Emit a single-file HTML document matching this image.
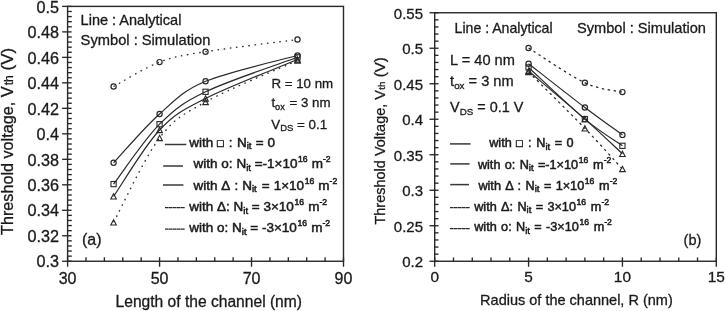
<!DOCTYPE html>
<html><head><meta charset="utf-8"><title>Threshold voltage plots</title>
<style>
html,body{margin:0;padding:0;background:#fff;width:725px;height:311px;overflow:hidden}
svg{display:block;will-change:transform}
text{font-family:"Liberation Sans", sans-serif;fill:#1a1a1a;stroke:#1a1a1a;stroke-width:0.3px}
text.lg{stroke-width:0.5px}
</style></head><body>
<svg width="725" height="311" viewBox="0 0 725 311">
<g stroke="#282828" fill="none">
<rect x="67.6" y="6.4" width="275.90" height="254.85" fill="none" stroke-width="1.4"/>
<line x1="62.10" y1="261.25" x2="71.60" y2="261.25" stroke-width="1.35" />
<line x1="67.60" y1="256.15" x2="71.80" y2="256.15" stroke-width="1.35" />
<line x1="67.60" y1="251.06" x2="71.80" y2="251.06" stroke-width="1.35" />
<line x1="67.60" y1="245.96" x2="71.80" y2="245.96" stroke-width="1.35" />
<line x1="67.60" y1="240.86" x2="71.80" y2="240.86" stroke-width="1.35" />
<line x1="62.10" y1="235.76" x2="71.60" y2="235.76" stroke-width="1.35" />
<line x1="67.60" y1="230.67" x2="71.80" y2="230.67" stroke-width="1.35" />
<line x1="67.60" y1="225.57" x2="71.80" y2="225.57" stroke-width="1.35" />
<line x1="67.60" y1="220.47" x2="71.80" y2="220.47" stroke-width="1.35" />
<line x1="67.60" y1="215.38" x2="71.80" y2="215.38" stroke-width="1.35" />
<line x1="62.10" y1="210.28" x2="71.60" y2="210.28" stroke-width="1.35" />
<line x1="67.60" y1="205.18" x2="71.80" y2="205.18" stroke-width="1.35" />
<line x1="67.60" y1="200.09" x2="71.80" y2="200.09" stroke-width="1.35" />
<line x1="67.60" y1="194.99" x2="71.80" y2="194.99" stroke-width="1.35" />
<line x1="67.60" y1="189.89" x2="71.80" y2="189.89" stroke-width="1.35" />
<line x1="62.10" y1="184.80" x2="71.60" y2="184.80" stroke-width="1.35" />
<line x1="67.60" y1="179.70" x2="71.80" y2="179.70" stroke-width="1.35" />
<line x1="67.60" y1="174.60" x2="71.80" y2="174.60" stroke-width="1.35" />
<line x1="67.60" y1="169.50" x2="71.80" y2="169.50" stroke-width="1.35" />
<line x1="67.60" y1="164.41" x2="71.80" y2="164.41" stroke-width="1.35" />
<line x1="62.10" y1="159.31" x2="71.60" y2="159.31" stroke-width="1.35" />
<line x1="67.60" y1="154.21" x2="71.80" y2="154.21" stroke-width="1.35" />
<line x1="67.60" y1="149.12" x2="71.80" y2="149.12" stroke-width="1.35" />
<line x1="67.60" y1="144.02" x2="71.80" y2="144.02" stroke-width="1.35" />
<line x1="67.60" y1="138.92" x2="71.80" y2="138.92" stroke-width="1.35" />
<line x1="62.10" y1="133.82" x2="71.60" y2="133.82" stroke-width="1.35" />
<line x1="67.60" y1="128.73" x2="71.80" y2="128.73" stroke-width="1.35" />
<line x1="67.60" y1="123.63" x2="71.80" y2="123.63" stroke-width="1.35" />
<line x1="67.60" y1="118.53" x2="71.80" y2="118.53" stroke-width="1.35" />
<line x1="67.60" y1="113.44" x2="71.80" y2="113.44" stroke-width="1.35" />
<line x1="62.10" y1="108.34" x2="71.60" y2="108.34" stroke-width="1.35" />
<line x1="67.60" y1="103.24" x2="71.80" y2="103.24" stroke-width="1.35" />
<line x1="67.60" y1="98.15" x2="71.80" y2="98.15" stroke-width="1.35" />
<line x1="67.60" y1="93.05" x2="71.80" y2="93.05" stroke-width="1.35" />
<line x1="67.60" y1="87.95" x2="71.80" y2="87.95" stroke-width="1.35" />
<line x1="62.10" y1="82.85" x2="71.60" y2="82.85" stroke-width="1.35" />
<line x1="67.60" y1="77.76" x2="71.80" y2="77.76" stroke-width="1.35" />
<line x1="67.60" y1="72.66" x2="71.80" y2="72.66" stroke-width="1.35" />
<line x1="67.60" y1="67.56" x2="71.80" y2="67.56" stroke-width="1.35" />
<line x1="67.60" y1="62.47" x2="71.80" y2="62.47" stroke-width="1.35" />
<line x1="62.10" y1="57.37" x2="71.60" y2="57.37" stroke-width="1.35" />
<line x1="67.60" y1="52.27" x2="71.80" y2="52.27" stroke-width="1.35" />
<line x1="67.60" y1="47.18" x2="71.80" y2="47.18" stroke-width="1.35" />
<line x1="67.60" y1="42.08" x2="71.80" y2="42.08" stroke-width="1.35" />
<line x1="67.60" y1="36.98" x2="71.80" y2="36.98" stroke-width="1.35" />
<line x1="62.10" y1="31.89" x2="71.60" y2="31.89" stroke-width="1.35" />
<line x1="67.60" y1="26.79" x2="71.80" y2="26.79" stroke-width="1.35" />
<line x1="67.60" y1="21.69" x2="71.80" y2="21.69" stroke-width="1.35" />
<line x1="67.60" y1="16.59" x2="71.80" y2="16.59" stroke-width="1.35" />
<line x1="67.60" y1="11.50" x2="71.80" y2="11.50" stroke-width="1.35" />
<line x1="62.10" y1="6.40" x2="71.60" y2="6.40" stroke-width="1.35" />
<line x1="67.60" y1="266.75" x2="67.60" y2="257.25" stroke-width="1.35" />
<line x1="85.99" y1="261.25" x2="85.99" y2="257.25" stroke-width="1.35" />
<line x1="104.39" y1="261.25" x2="104.39" y2="257.25" stroke-width="1.35" />
<line x1="122.78" y1="261.25" x2="122.78" y2="257.25" stroke-width="1.35" />
<line x1="141.17" y1="261.25" x2="141.17" y2="257.25" stroke-width="1.35" />
<line x1="159.57" y1="266.75" x2="159.57" y2="257.25" stroke-width="1.35" />
<line x1="177.96" y1="261.25" x2="177.96" y2="257.25" stroke-width="1.35" />
<line x1="196.35" y1="261.25" x2="196.35" y2="257.25" stroke-width="1.35" />
<line x1="214.75" y1="261.25" x2="214.75" y2="257.25" stroke-width="1.35" />
<line x1="233.14" y1="261.25" x2="233.14" y2="257.25" stroke-width="1.35" />
<line x1="251.53" y1="266.75" x2="251.53" y2="257.25" stroke-width="1.35" />
<line x1="269.93" y1="261.25" x2="269.93" y2="257.25" stroke-width="1.35" />
<line x1="288.32" y1="261.25" x2="288.32" y2="257.25" stroke-width="1.35" />
<line x1="306.71" y1="261.25" x2="306.71" y2="257.25" stroke-width="1.35" />
<line x1="325.11" y1="261.25" x2="325.11" y2="257.25" stroke-width="1.35" />
<line x1="343.50" y1="266.75" x2="343.50" y2="257.25" stroke-width="1.35" />
<path d="M113.58,162.80 C121.25,154.67 144.24,127.58 159.57,114.00 C174.89,100.42 182.56,91.05 205.55,81.30 C228.54,71.55 282.19,59.80 297.52,55.50" fill="none" stroke-width="1.2"/>
<path d="M113.58,184.10 C121.25,174.12 144.24,139.58 159.57,124.20 C174.89,108.82 182.56,102.95 205.55,91.80 C228.54,80.65 282.19,63.05 297.52,57.30" fill="none" stroke-width="1.2"/>
<path d="M113.58,196.40 C121.25,185.33 144.24,146.32 159.57,130.00 C174.89,113.68 182.56,110.25 205.55,98.50 C228.54,86.75 282.19,66.00 297.52,59.50" fill="none" stroke-width="1.2"/>
<path d="M113.58,222.30 C121.25,208.25 144.24,158.05 159.57,138.00 C174.89,117.95 182.56,114.92 205.55,102.00 C228.54,89.08 282.19,67.42 297.52,60.50" fill="none" stroke-width="1.3" stroke-dasharray="1.6 4.6"/>
<path d="M113.58,86.50 C121.25,82.43 144.24,67.90 159.57,62.10 C174.89,56.30 182.56,55.47 205.55,51.70 C228.54,47.93 282.19,41.53 297.52,39.50" fill="none" stroke-width="1.3" stroke-dasharray="1.6 4.6"/>
<circle cx="113.58" cy="162.80" r="2.6" fill="none" stroke-width="1.2"/>
<circle cx="159.57" cy="114.00" r="2.6" fill="none" stroke-width="1.2"/>
<circle cx="205.55" cy="81.30" r="2.6" fill="none" stroke-width="1.2"/>
<circle cx="297.52" cy="55.50" r="2.6" fill="none" stroke-width="1.2"/>
<rect x="110.98" y="181.50" width="5.2" height="5.2" fill="none" stroke-width="1.1"/>
<rect x="156.97" y="121.60" width="5.2" height="5.2" fill="none" stroke-width="1.1"/>
<rect x="202.95" y="89.20" width="5.2" height="5.2" fill="none" stroke-width="1.1"/>
<rect x="294.92" y="54.70" width="5.2" height="5.2" fill="none" stroke-width="1.1"/>
<path d="M113.58,193.74 L116.38,199.06 L110.78,199.06 Z" fill="none" stroke-width="1.1"/>
<path d="M159.57,127.34 L162.37,132.66 L156.77,132.66 Z" fill="none" stroke-width="1.1"/>
<path d="M205.55,95.84 L208.35,101.16 L202.75,101.16 Z" fill="none" stroke-width="1.1"/>
<path d="M297.52,56.84 L300.32,62.16 L294.72,62.16 Z" fill="none" stroke-width="1.1"/>
<path d="M113.58,219.64 L116.38,224.96 L110.78,224.96 Z" fill="none" stroke-width="1.1"/>
<path d="M159.57,135.34 L162.37,140.66 L156.77,140.66 Z" fill="none" stroke-width="1.1"/>
<path d="M205.55,99.34 L208.35,104.66 L202.75,104.66 Z" fill="none" stroke-width="1.1"/>
<path d="M297.52,57.84 L300.32,63.16 L294.72,63.16 Z" fill="none" stroke-width="1.1"/>
<circle cx="113.58" cy="86.50" r="2.6" fill="none" stroke-width="1.2"/>
<circle cx="159.57" cy="62.10" r="2.6" fill="none" stroke-width="1.2"/>
<circle cx="205.55" cy="51.70" r="2.6" fill="none" stroke-width="1.2"/>
<circle cx="297.52" cy="39.50" r="2.6" fill="none" stroke-width="1.2"/>
<line x1="164.90" y1="144.50" x2="186.30" y2="144.50" stroke-width="1.5" stroke="#383838"/>
<line x1="163.20" y1="166.00" x2="183.00" y2="166.00" stroke-width="1.5" stroke="#383838"/>
<line x1="163.00" y1="185.00" x2="183.40" y2="185.00" stroke-width="1.5" stroke="#383838"/>
<line x1="165.00" y1="207.60" x2="185.00" y2="207.60" stroke-width="1.35" stroke-dasharray="3.65 0.35"/>
<line x1="165.00" y1="229.10" x2="185.00" y2="229.10" stroke-width="1.35" stroke-dasharray="3.65 0.35"/>
<rect x="434.7" y="12.75" width="281.60" height="248.50" fill="none" stroke-width="1.4"/>
<line x1="429.50" y1="261.25" x2="438.50" y2="261.25" stroke-width="1.35" />
<line x1="434.70" y1="254.15" x2="438.50" y2="254.15" stroke-width="1.35" />
<line x1="434.70" y1="247.05" x2="438.50" y2="247.05" stroke-width="1.35" />
<line x1="434.70" y1="239.95" x2="438.50" y2="239.95" stroke-width="1.35" />
<line x1="434.70" y1="232.85" x2="438.50" y2="232.85" stroke-width="1.35" />
<line x1="429.50" y1="225.75" x2="438.50" y2="225.75" stroke-width="1.35" />
<line x1="434.70" y1="218.65" x2="438.50" y2="218.65" stroke-width="1.35" />
<line x1="434.70" y1="211.55" x2="438.50" y2="211.55" stroke-width="1.35" />
<line x1="434.70" y1="204.45" x2="438.50" y2="204.45" stroke-width="1.35" />
<line x1="434.70" y1="197.35" x2="438.50" y2="197.35" stroke-width="1.35" />
<line x1="429.50" y1="190.25" x2="438.50" y2="190.25" stroke-width="1.35" />
<line x1="434.70" y1="183.15" x2="438.50" y2="183.15" stroke-width="1.35" />
<line x1="434.70" y1="176.05" x2="438.50" y2="176.05" stroke-width="1.35" />
<line x1="434.70" y1="168.95" x2="438.50" y2="168.95" stroke-width="1.35" />
<line x1="434.70" y1="161.85" x2="438.50" y2="161.85" stroke-width="1.35" />
<line x1="429.50" y1="154.75" x2="438.50" y2="154.75" stroke-width="1.35" />
<line x1="434.70" y1="147.65" x2="438.50" y2="147.65" stroke-width="1.35" />
<line x1="434.70" y1="140.55" x2="438.50" y2="140.55" stroke-width="1.35" />
<line x1="434.70" y1="133.45" x2="438.50" y2="133.45" stroke-width="1.35" />
<line x1="434.70" y1="126.35" x2="438.50" y2="126.35" stroke-width="1.35" />
<line x1="429.50" y1="119.25" x2="438.50" y2="119.25" stroke-width="1.35" />
<line x1="434.70" y1="112.15" x2="438.50" y2="112.15" stroke-width="1.35" />
<line x1="434.70" y1="105.05" x2="438.50" y2="105.05" stroke-width="1.35" />
<line x1="434.70" y1="97.95" x2="438.50" y2="97.95" stroke-width="1.35" />
<line x1="434.70" y1="90.85" x2="438.50" y2="90.85" stroke-width="1.35" />
<line x1="429.50" y1="83.75" x2="438.50" y2="83.75" stroke-width="1.35" />
<line x1="434.70" y1="76.65" x2="438.50" y2="76.65" stroke-width="1.35" />
<line x1="434.70" y1="69.55" x2="438.50" y2="69.55" stroke-width="1.35" />
<line x1="434.70" y1="62.45" x2="438.50" y2="62.45" stroke-width="1.35" />
<line x1="434.70" y1="55.35" x2="438.50" y2="55.35" stroke-width="1.35" />
<line x1="429.50" y1="48.25" x2="438.50" y2="48.25" stroke-width="1.35" />
<line x1="434.70" y1="41.15" x2="438.50" y2="41.15" stroke-width="1.35" />
<line x1="434.70" y1="34.05" x2="438.50" y2="34.05" stroke-width="1.35" />
<line x1="434.70" y1="26.95" x2="438.50" y2="26.95" stroke-width="1.35" />
<line x1="434.70" y1="19.85" x2="438.50" y2="19.85" stroke-width="1.35" />
<line x1="429.50" y1="12.75" x2="438.50" y2="12.75" stroke-width="1.35" />
<line x1="434.70" y1="266.75" x2="434.70" y2="257.45" stroke-width="1.35" />
<line x1="453.47" y1="261.25" x2="453.47" y2="257.45" stroke-width="1.35" />
<line x1="472.25" y1="261.25" x2="472.25" y2="257.45" stroke-width="1.35" />
<line x1="491.02" y1="261.25" x2="491.02" y2="257.45" stroke-width="1.35" />
<line x1="509.79" y1="261.25" x2="509.79" y2="257.45" stroke-width="1.35" />
<line x1="528.57" y1="266.75" x2="528.57" y2="257.45" stroke-width="1.35" />
<line x1="547.34" y1="261.25" x2="547.34" y2="257.45" stroke-width="1.35" />
<line x1="566.11" y1="261.25" x2="566.11" y2="257.45" stroke-width="1.35" />
<line x1="584.89" y1="261.25" x2="584.89" y2="257.45" stroke-width="1.35" />
<line x1="603.66" y1="261.25" x2="603.66" y2="257.45" stroke-width="1.35" />
<line x1="622.43" y1="266.75" x2="622.43" y2="257.45" stroke-width="1.35" />
<line x1="641.21" y1="261.25" x2="641.21" y2="257.45" stroke-width="1.35" />
<line x1="659.98" y1="261.25" x2="659.98" y2="257.45" stroke-width="1.35" />
<line x1="678.75" y1="261.25" x2="678.75" y2="257.45" stroke-width="1.35" />
<line x1="697.53" y1="261.25" x2="697.53" y2="257.45" stroke-width="1.35" />
<line x1="716.30" y1="266.75" x2="716.30" y2="257.45" stroke-width="1.35" />
<path d="M528.57,63.70 C537.95,71.00 569.24,95.63 584.89,107.50 C600.53,119.37 616.18,130.33 622.43,134.90" fill="none" stroke-width="1.2"/>
<path d="M528.57,67.50 C537.95,76.10 569.24,106.05 584.89,119.10 C600.53,132.15 616.18,141.35 622.43,145.80" fill="none" stroke-width="1.2"/>
<path d="M528.57,71.00 C537.95,79.02 569.24,105.30 584.89,119.10 C600.53,132.90 616.18,148.02 622.43,153.80" fill="none" stroke-width="1.2"/>
<path d="M528.57,72.00 C537.95,81.40 569.24,112.23 584.89,128.40 C600.53,144.57 616.18,162.23 622.43,169.00" fill="none" stroke-width="1.3" stroke-dasharray="2.4 3.6"/>
<path d="M528.57,48.00 C537.95,53.80 569.24,75.45 584.89,82.80 C600.53,90.15 616.18,90.55 622.43,92.10" fill="none" stroke-width="1.3" stroke-dasharray="2.4 3.6"/>
<circle cx="528.57" cy="63.70" r="2.6" fill="none" stroke-width="1.2"/>
<circle cx="584.89" cy="107.50" r="2.6" fill="none" stroke-width="1.2"/>
<circle cx="622.43" cy="134.90" r="2.6" fill="none" stroke-width="1.2"/>
<rect x="525.97" y="64.90" width="5.2" height="5.2" fill="none" stroke-width="1.1"/>
<rect x="582.29" y="116.50" width="5.2" height="5.2" fill="none" stroke-width="1.1"/>
<rect x="619.83" y="143.20" width="5.2" height="5.2" fill="none" stroke-width="1.1"/>
<path d="M528.57,68.34 L531.37,73.66 L525.77,73.66 Z" fill="none" stroke-width="1.1"/>
<path d="M584.89,116.44 L587.69,121.76 L582.09,121.76 Z" fill="none" stroke-width="1.1"/>
<path d="M622.43,151.14 L625.23,156.46 L619.63,156.46 Z" fill="none" stroke-width="1.1"/>
<path d="M528.57,69.34 L531.37,74.66 L525.77,74.66 Z" fill="none" stroke-width="1.1"/>
<path d="M584.89,125.74 L587.69,131.06 L582.09,131.06 Z" fill="none" stroke-width="1.1"/>
<path d="M622.43,166.34 L625.23,171.66 L619.63,171.66 Z" fill="none" stroke-width="1.1"/>
<circle cx="528.57" cy="48.00" r="2.6" fill="none" stroke-width="1.2"/>
<circle cx="584.89" cy="82.80" r="2.6" fill="none" stroke-width="1.2"/>
<circle cx="622.43" cy="92.10" r="2.6" fill="none" stroke-width="1.2"/>
<line x1="450.00" y1="143.90" x2="470.60" y2="143.90" stroke-width="1.5" stroke="#383838"/>
<line x1="450.30" y1="163.90" x2="469.60" y2="163.90" stroke-width="1.5" stroke="#383838"/>
<line x1="450.20" y1="184.60" x2="469.00" y2="184.60" stroke-width="1.5" stroke="#383838"/>
<line x1="450.00" y1="207.60" x2="469.80" y2="207.60" stroke-width="1.35" stroke-dasharray="3.65 0.35"/>
<line x1="450.00" y1="228.60" x2="469.80" y2="228.60" stroke-width="1.35" stroke-dasharray="3.65 0.35"/>
</g>
<g fill="#1a1a1a" stroke="none">
<text x="59.00" y="267.45" font-size="16.2" text-anchor="end" >0.3</text>
<text x="59.00" y="241.96" font-size="16.2" text-anchor="end" >0.32</text>
<text x="59.00" y="216.48" font-size="16.2" text-anchor="end" >0.34</text>
<text x="59.00" y="191.00" font-size="16.2" text-anchor="end" >0.36</text>
<text x="59.00" y="165.51" font-size="16.2" text-anchor="end" >0.38</text>
<text x="59.00" y="140.02" font-size="16.2" text-anchor="end" >0.4</text>
<text x="59.00" y="114.54" font-size="16.2" text-anchor="end" >0.42</text>
<text x="59.00" y="89.05" font-size="16.2" text-anchor="end" >0.44</text>
<text x="59.00" y="63.57" font-size="16.2" text-anchor="end" >0.46</text>
<text x="59.00" y="38.09" font-size="16.2" text-anchor="end" >0.48</text>
<text x="59.00" y="12.60" font-size="16.2" text-anchor="end" >0.5</text>
<text x="67.60" y="283.60" font-size="16" text-anchor="middle" >30</text>
<text x="159.57" y="283.60" font-size="16" text-anchor="middle" >50</text>
<text x="251.53" y="283.60" font-size="16" text-anchor="middle" >70</text>
<text x="343.50" y="283.60" font-size="16" text-anchor="middle" >90</text>
<text x="115.60" y="307.20" font-size="15.6" text-anchor="start" >Length of the channel (nm)</text>
<text x="80.60" y="25.30" font-size="14.5" text-anchor="start" >Line : Analytical</text>
<text x="80.60" y="44.70" font-size="14.7" text-anchor="start" >Symbol : Simulation</text>
<text x="271.40" y="87.70" font-size="13.3" text-anchor="start" >R = 10 nm</text>
<text x="271.40" y="107.00" font-size="13.3" text-anchor="start" >t<tspan font-size="9.2" dy="2.5">ox</tspan><tspan dy="-2.5" dx="1"> = 3 nm</tspan></text>
<text x="271.20" y="128.60" font-size="13.4" text-anchor="start" >V<tspan font-size="9.5" dy="2.5">DS</tspan><tspan dy="-2.5"> = 0.1</tspan></text>
<text x="82.00" y="244.80" font-size="16" text-anchor="start" >(a)</text>
<text transform="translate(12.9,235.0) rotate(-90)" font-size="16.2">Threshold voltage, V<tspan font-size="12" dx="1.3">th</tspan><tspan dx="0" font-size="17"> (V)</tspan></text>
<text x="189.20" y="146.80" font-size="13.5" text-anchor="start" class="lg">with <tspan font-size="11">□</tspan> <tspan dx="1.4">:</tspan> <tspan dx="0.6">N</tspan><tspan font-size="9.5" dy="2.5">it</tspan><tspan dy="-2.5" dx="0.6"> = 0</tspan></text>
<text x="193.60" y="168.00" font-size="13.5" text-anchor="start" class="lg">with o: <tspan dx="0">N</tspan><tspan font-size="9.5" dy="2.5">it</tspan><tspan dy="-2.5" dx="0"> =</tspan>-1×10<tspan font-size="8.6" dy="-6" dx="0.6">16</tspan><tspan dy="6" dx="0.4"> m</tspan><tspan font-size="8.6" dy="-6">-2</tspan><tspan dy="6"></tspan></text>
<text x="193.50" y="189.60" font-size="13.5" text-anchor="start" class="lg">with Δ <tspan dx="1.3">:</tspan> <tspan dx="0">N</tspan><tspan font-size="9.5" dy="2.5">it</tspan><tspan dy="-2.5" dx="1.3"> =</tspan><tspan dx="0.3"> </tspan>1×10<tspan font-size="8.6" dy="-6" dx="0.6">16</tspan><tspan dy="6" dx="0.4"> m</tspan><tspan font-size="8.6" dy="-6">-2</tspan><tspan dy="6"></tspan></text>
<text x="189.30" y="211.00" font-size="13.5" text-anchor="start" class="lg">with Δ: <tspan dx="0">N</tspan><tspan font-size="9.5" dy="2.5">it</tspan><tspan dy="-2.5" dx="0"> = </tspan>3×10<tspan font-size="8.6" dy="-6" dx="0.6">16</tspan><tspan dy="6" dx="0.4"> m</tspan><tspan font-size="8.6" dy="-6">-2</tspan><tspan dy="6"></tspan></text>
<text x="189.30" y="232.00" font-size="13.5" text-anchor="start" class="lg">with o: <tspan dx="0">N</tspan><tspan font-size="9.5" dy="2.5">it</tspan><tspan dy="-2.5" dx="0"> = </tspan>-3×10<tspan font-size="8.6" dy="-6" dx="0.6">16</tspan><tspan dy="6" dx="0.4"> m</tspan><tspan font-size="8.6" dy="-6">-2</tspan><tspan dy="6"></tspan></text>
<text x="423.00" y="267.45" font-size="15" text-anchor="end" >0.2</text>
<text x="423.00" y="231.95" font-size="15" text-anchor="end" >0.25</text>
<text x="423.00" y="196.45" font-size="15" text-anchor="end" >0.3</text>
<text x="423.00" y="160.95" font-size="15" text-anchor="end" >0.35</text>
<text x="423.00" y="125.45" font-size="15" text-anchor="end" >0.4</text>
<text x="423.00" y="89.95" font-size="15" text-anchor="end" >0.45</text>
<text x="423.00" y="54.45" font-size="15" text-anchor="end" >0.5</text>
<text x="423.00" y="18.95" font-size="15" text-anchor="end" >0.55</text>
<text x="434.70" y="282.30" font-size="15.4" text-anchor="middle" >0</text>
<text x="528.57" y="282.30" font-size="15.4" text-anchor="middle" >5</text>
<text x="622.43" y="282.30" font-size="15.4" text-anchor="middle" >10</text>
<text x="716.30" y="282.30" font-size="15.4" text-anchor="middle" >15</text>
<text x="480.10" y="304.60" font-size="14.5" text-anchor="start" >Radius of the channel, R (nm)</text>
<text x="454.60" y="32.80" font-size="14.1" text-anchor="start" >Line : Analytical</text>
<text x="577.00" y="32.80" font-size="14.6" text-anchor="start" >Symbol : Simulation</text>
<text x="450.10" y="64.80" font-size="14.6" text-anchor="start" >L = 40 nm</text>
<text x="450.10" y="86.30" font-size="14.6" text-anchor="start" >t<tspan font-size="9.8" dy="2.5">ox</tspan><tspan dy="-2.5"> = 3 nm</tspan></text>
<text x="450.10" y="112.30" font-size="14.4" text-anchor="start" >V<tspan font-size="9.8" dy="2.7">DS</tspan><tspan dy="-2.7"> = 0.1 V</tspan></text>
<text x="683.60" y="244.80" font-size="14.5" text-anchor="start" >(b)</text>
<text transform="translate(385.2,224.6) rotate(-90)" font-size="14.5">Threshold Voltage, V<tspan font-size="9.8" dx="0.3">th</tspan><tspan font-size="15"> (V)</tspan></text>
<text x="489.20" y="147.00" font-size="12.7" text-anchor="start" word-spacing="0.8" class="lg">with <tspan font-size="11">□</tspan> <tspan dx="1.0">:</tspan> <tspan dx="0.3">N</tspan><tspan font-size="9.5" dy="2.5">it</tspan><tspan dy="-2.5" dx="0.3"> = 0</tspan></text>
<text x="477.90" y="168.70" font-size="12.7" text-anchor="start" word-spacing="0.8" class="lg">with o: <tspan dx="0">N</tspan><tspan font-size="9.5" dy="2.5">it</tspan><tspan dy="-2.5" dx="0"> =</tspan>-1×10<tspan font-size="8.6" dy="-6" dx="0.6">16</tspan><tspan dy="6" dx="0.4"> m</tspan><tspan font-size="8.6" dy="-6">-2</tspan><tspan dy="6"></tspan></text>
<text x="478.40" y="189.60" font-size="12.7" text-anchor="start" word-spacing="0.8" class="lg">with Δ <tspan dx="0.2">:</tspan> <tspan dx="0">N</tspan><tspan font-size="9.5" dy="2.5">it</tspan><tspan dy="-2.5" dx="0.2"> =</tspan><tspan dx="0"> </tspan>1×10<tspan font-size="8.6" dy="-6" dx="0.6">16</tspan><tspan dy="6" dx="0.4"> m</tspan><tspan font-size="8.6" dy="-6">-2</tspan><tspan dy="6"></tspan></text>
<text x="474.20" y="210.50" font-size="12.7" text-anchor="start" word-spacing="0.8" class="lg">with Δ: <tspan dx="0">N</tspan><tspan font-size="9.5" dy="2.5">it</tspan><tspan dy="-2.5" dx="0"> = </tspan>3×10<tspan font-size="8.6" dy="-6" dx="0.6">16</tspan><tspan dy="6" dx="0.4"> m</tspan><tspan font-size="8.6" dy="-6">-2</tspan><tspan dy="6"></tspan></text>
<text x="474.20" y="231.40" font-size="12.7" text-anchor="start" word-spacing="0.8" class="lg">with o: <tspan dx="0">N</tspan><tspan font-size="9.5" dy="2.5">it</tspan><tspan dy="-2.5" dx="0"> = </tspan>-3×10<tspan font-size="8.6" dy="-6" dx="0.6">16</tspan><tspan dy="6" dx="0.4"> m</tspan><tspan font-size="8.6" dy="-6">-2</tspan><tspan dy="6"></tspan></text>
</g>
</svg>
</body></html>
